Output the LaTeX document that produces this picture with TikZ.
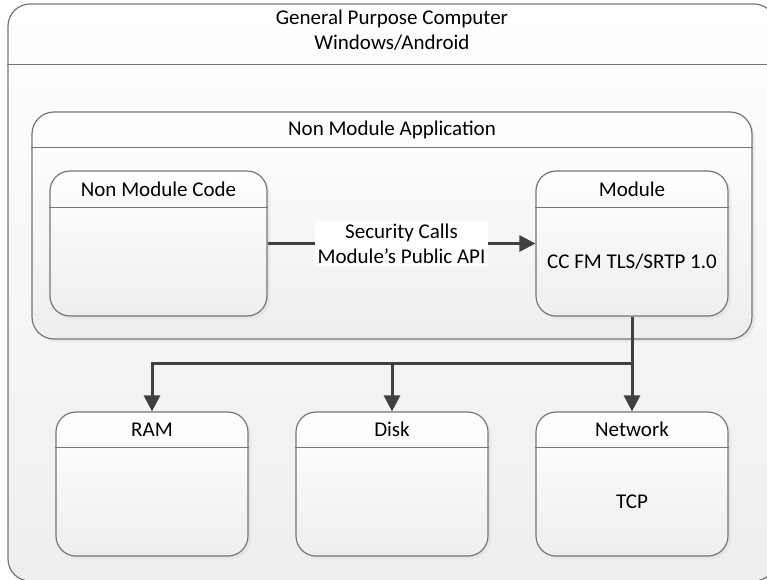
\documentclass[tikz,border=0pt]{standalone}
\usepackage{fontspec}
\setmainfont{Carlito}
\usetikzlibrary{positioning, arrows.meta, shadows}
\definecolor{boxline}{RGB}{118,118,118}
\definecolor{wireline}{RGB}{64,64,64}
\definecolor{boxshade}{RGB}{238,238,238}
\tikzset{
  box/.style={draw=boxline, line width=1.2pt, rounded corners=20pt, top color=white,
    bottom color=boxshade, inner sep=0pt, minimum width=192pt, minimum height=144pt,
    drop shadow={shadow xshift=3pt, shadow yshift=-3pt, fill=black!12, opacity=.6}},
  bigbox/.style={box, drop shadow={opacity=0}},
  headline/.style={draw=boxline, line width=1.2pt},
  title/.style={font=\fontsize{21}{25}\selectfont, align=center, inner sep=0pt},
  wire/.style={draw=wireline, line width=3pt},
  wirearrow/.style={wire, -{Triangle[length=16pt,width=16pt]}},
}

\begin{document}
\begin{tikzpicture}[x=1pt,y=-1pt]
\useasboundingbox (0,0) rectangle (767,579);
% outer frame
\node[bigbox, minimum width=768pt, minimum height=577pt, rounded corners=22pt,
  drop shadow={opacity=0}] (pc) at (392,292.5) {};
\draw[headline] ([yshift=-61pt]pc.north west) -- ([yshift=-61pt]pc.north east);
\node[title] (pctitle) at ([yshift=-26.5pt]pc.north) {General Purpose Computer\\Windows/Android};
% application
\node[box, minimum width=720pt, minimum height=227pt, rounded corners=22pt] (app) at (392,225.5) {};
\draw[headline] ([yshift=-36pt]app.north west) -- ([yshift=-36pt]app.north east);
\node[title] (apptitle) at ([yshift=-18pt]app.north) {Non Module Application};
% code and module
\node[box, minimum width=217pt, minimum height=145pt] (code) at (158.5,243.5) {};
\draw[headline] ([yshift=-37pt]code.north west) -- ([yshift=-37pt]code.north east);
\node[title] (codetitle) at ([yshift=-18.5pt]code.north) {Non Module Code};
\node[box, minimum height=145pt] (module) at (632,243.5) {};
\draw[headline] ([yshift=-37pt]module.north west) -- ([yshift=-37pt]module.north east);
\node[title] (moduletitle) at ([yshift=-18.5pt]module.north) {Module};
\node[title] (moduletext) at (632,262) {CC FM TLS/SRTP 1.0};
% resources
\node[box] (ram) at (152,484) {};
\draw[headline] ([yshift=-36pt]ram.north west) -- ([yshift=-36pt]ram.north east);
\node[title] (ramtitle) at ([yshift=-18pt]ram.north) {RAM};
\node[box] (disk) at (392,484) {};
\draw[headline] ([yshift=-36pt]disk.north west) -- ([yshift=-36pt]disk.north east);
\node[title] (disktitle) at ([yshift=-18pt]disk.north) {Disk};
\node[box] (net) at (632,484) {};
\draw[headline] ([yshift=-36pt]net.north west) -- ([yshift=-36pt]net.north east);
\node[title] (nettitle) at ([yshift=-18pt]net.north) {Network};
\node[title] (nettext) at (632,502) {TCP};
% connectors
\draw[wirearrow] (code.east) -- (module.west)
  node[title, midway, fill=white, inner sep=3pt] (calls) {Security Calls\\Module’s Public API};
\coordinate (split) at (632,363);
\draw[wire] (module.south) -- (split);
\draw[wirearrow] (split) -| (ram.north);
\draw[wirearrow] (split) -| (disk.north);
\draw[wirearrow] (split) -- (net.north);
\end{tikzpicture}
\end{document}
